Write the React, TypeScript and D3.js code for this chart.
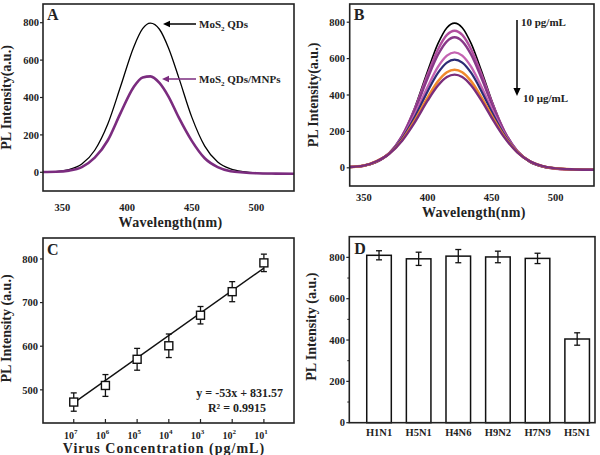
import React from "react";
import * as d3 from "d3";

// ---------- Panel A data ----------
const WL_A = [335, 345, 355, 365, 375, 385, 395, 405, 412, 418, 425, 432, 440, 450, 460, 470, 480, 490, 500, 515, 530];
const A_QDS = [3, 4, 14, 44, 118, 257, 460, 668, 768, 798, 765, 665, 505, 295, 140, 55, 18, 3, -4, -7, -8];
const A_MNPS = [2, 3, 9, 28, 78, 170, 318, 455, 507, 513, 478, 405, 292, 168, 75, 28, 6, -1, -5, -7, -8];

// ---------- Panel B data ----------
const WL_B = [338, 350, 360, 370, 380, 390, 400, 408, 415, 421, 427, 434, 442, 450, 460, 470, 480, 490, 500, 515, 530];
const B_C1 = [4, 10, 30, 77, 175, 333, 533, 682, 770, 795, 770, 682, 533, 371, 200, 88, 30, 5, -5, -10, -11];
const B_C2 = [4, 11, 33, 81, 176, 327, 514, 650, 730, 753, 730, 650, 514, 363, 201, 92, 33, 6, -5, -10, -11];
const B_C3 = [4, 11, 34, 81, 174, 318, 493, 621, 695, 717, 695, 621, 493, 352, 198, 92, 34, 7, -4, -10, -11];
const B_C4 = [4, 12, 35, 81, 166, 294, 445, 554, 616, 634, 616, 554, 445, 323, 188, 91, 35, 8, -4, -9, -11];
const B_C5 = [4, 12, 35, 80, 161, 280, 421, 521, 578, 594, 578, 521, 421, 308, 181, 89, 35, 8, -3, -9, -11];
const B_C6 = [4, 12, 36, 78, 153, 262, 387, 475, 525, 539, 525, 475, 387, 287, 172, 87, 35, 9, -3, -9, -11];
const B_C7 = [4, 12, 36, 77, 149, 251, 370, 452, 499, 512, 499, 452, 370, 275, 166, 85, 35, 9, -3, -9, -11];
const B_SERIES = [B_C1, B_C2, B_C3, B_C4, B_C5, B_C6, B_C7];
const B_COLORS = ["#000000", "#b14f9f", "#883888", "#c463b2", "#2c2c76", "#f0892c", "#7a2e7c"];

// ---------- Panel C data ----------
const C_EXP = [7, 6, 5, 4, 3, 2, 1];
const C_MEAN = [472, 510, 570, 601, 671, 725, 791];
const C_ERR = [21, 25, 25, 27, 20, 23, 20];
const C_FIT = [470, 779];

// ---------- Panel D data ----------
const D_CATS = ["H1N1", "H5N1", "H4N6", "H9N2", "H7N9", "H5N1"];
const D_MEAN = [810, 793, 806, 802, 795, 405];
const D_ERR = [22, 32, 32, 28, 25, 30];

const SPEC_Y_TICKS = [0, 200, 400, 600, 800];
const SPEC_X_TICKS = [350, 400, 450, 500];
const C_Y_TICKS = [500, 600, 700, 800];
const D_Y_TICKS = [0, 200, 400, 600, 800];

const FONT = "'Liberation Serif', 'Times New Roman', serif";
const FRAME = "#222";

function Frame({ x0, y0, x1, y1 }: any) {
  return <rect x={x0} y={y0} width={x1 - x0} height={y1 - y0} fill="none" stroke={FRAME} strokeWidth={1.6} />;
}

function YTicks({ scale, ticks, x0, len = 3, labelX }: any) {
  return (
    <g>
      {ticks.map((t: number) => (
        <g key={t}>
          <line x1={x0 - len} x2={x0} y1={scale(t)} y2={scale(t)} stroke={FRAME} strokeWidth={1.2} />
          <text x={labelX} y={scale(t)} dy="0.35em" textAnchor="end" fontSize={10.5} fontWeight="bold" fontFamily={FONT} fill="#222">
            {t}
          </text>
        </g>
      ))}
    </g>
  );
}

function SpectrumPanel({ left, top, right, bottom, xDomain, label, wl, series, colors, widths, labelX, yLabelX, xTitleY, xTickY }: any) {
  const x = d3.scaleLinear().domain(xDomain).range([left, right]);
  const y = d3.scaleLinear().domain([-100, 900]).range([bottom, top]);
  const line = d3
    .line<number>()
    .x((_, i) => x(wl[i]))
    .y((d) => y(d))
    .curve(d3.curveMonotoneX);
  const midY = (top + bottom) / 2;
  return (
    <g>
      <defs>
        <clipPath id={"clip" + label}>
          <rect x={left} y={top} width={right - left} height={bottom - top} />
        </clipPath>
      </defs>
      <g clipPath={`url(#clip${label})`}>
        {series.map((s: number[], i: number) => (
          <path key={i} d={line(s) || ""} fill="none" stroke={colors[i]} strokeWidth={widths[i]} />
        ))}
      </g>
      <Frame x0={left} y0={top} x1={right} y1={bottom} />
      <YTicks scale={y} ticks={SPEC_Y_TICKS} x0={left} labelX={labelX} />
      {SPEC_X_TICKS.map((t) => (
        <text key={t} x={x(t)} y={xTickY} textAnchor="middle" fontSize={10.5} fontWeight="bold" fontFamily={FONT} fill="#222">
          {t}
        </text>
      ))}
      <text x={(left + right) / 2 + 2} y={xTitleY} textAnchor="middle" fontSize={14} fontWeight="bold" fontFamily={FONT} fill="#222" letterSpacing={0.3}>
        Wavelength(nm)
      </text>
      <text transform={`translate(${yLabelX},${midY}) rotate(-90)`} textAnchor="middle" fontSize={14} fontWeight="bold" fontFamily={FONT} fill="#222">
        PL Intensity(a.u.)
      </text>
      <text x={left + 4} y={top + 16} fontSize={16} fontWeight="bold" fontFamily={FONT} fill="#222">
        {label}
      </text>
    </g>
  );
}

function Arrow({ x1, y1, x2, y2, color, head = 7, width = 1.5 }: any) {
  const ang = Math.atan2(y2 - y1, x2 - x1);
  const hw = head * 0.45;
  const bx = x2 - head * Math.cos(ang);
  const by = y2 - head * Math.sin(ang);
  const p1 = [bx + hw * Math.sin(ang), by - hw * Math.cos(ang)];
  const p2 = [bx - hw * Math.sin(ang), by + hw * Math.cos(ang)];
  return (
    <g>
      <line x1={x1} y1={y1} x2={bx} y2={by} stroke={color} strokeWidth={width} />
      <polygon points={`${x2},${y2} ${p1[0]},${p1[1]} ${p2[0]},${p2[1]}`} fill={color} />
    </g>
  );
}

function PanelC() {
  const left = 43, right = 294, top = 238, bottom = 423;
  const x = d3.scaleLinear().domain([-0.97, 6.95]).range([left, right]);
  const y = d3.scaleLinear().domain([424, 848]).range([bottom, top]);
  const fitLine = d3
    .line<number>()
    .x((_, i) => x(i === 0 ? 0 : C_EXP.length - 1))
    .y((d) => y(d));
  const sq = 8;
  return (
    <g>
      <path d={fitLine(C_FIT) || ""} stroke="#111" strokeWidth={1.4} fill="none" />
      {C_MEAN.map((m, i) => (
        <g key={i}>
          <line x1={x(i)} x2={x(i)} y1={y(m + C_ERR[i])} y2={y(m - C_ERR[i])} stroke="#111" strokeWidth={1.3} />
          <line x1={x(i) - 3} x2={x(i) + 3} y1={y(m + C_ERR[i])} y2={y(m + C_ERR[i])} stroke="#111" strokeWidth={1.3} />
          <line x1={x(i) - 3} x2={x(i) + 3} y1={y(m - C_ERR[i])} y2={y(m - C_ERR[i])} stroke="#111" strokeWidth={1.3} />
          <rect x={x(i) - sq / 2} y={y(m) - sq / 2} width={sq} height={sq} fill="#fff" stroke="#111" strokeWidth={1.4} />
        </g>
      ))}
      <Frame x0={left} y0={top} x1={right} y1={bottom} />
      <YTicks scale={y} ticks={C_Y_TICKS} x0={left} labelX={38} />
      {C_EXP.map((e, i) => (
        <g key={i}>
          <line x1={x(i)} x2={x(i)} y1={bottom} y2={bottom - 4} stroke={FRAME} strokeWidth={1.2} />
          <text x={x(i) - 3} y={439} textAnchor="middle" fontSize={10} fontWeight="bold" fontFamily={FONT} fill="#222">
            10
            <tspan dy={-5} fontSize={7}>
              {e}
            </tspan>
          </text>
        </g>
      ))}
      <text x={164} y={453} textAnchor="middle" fontSize={14} fontWeight="bold" fontFamily={FONT} fill="#222" letterSpacing={1}>
        Virus Concentration (pg/mL)
      </text>
      <text transform={`translate(11,${(top + bottom) / 2 - 2}) rotate(-90)`} textAnchor="middle" fontSize={14} fontWeight="bold" fontFamily={FONT} fill="#222">
        PL Intensity (a.u.)
      </text>
      <text x={283} y={397} textAnchor="end" fontSize={12} fontWeight="bold" fontFamily={FONT} fill="#222">
        y = -53x + 831.57
      </text>
      <text x={237} y={412} textAnchor="middle" fontSize={12} fontWeight="bold" fontFamily={FONT} fill="#222">
        R² = 0.9915
      </text>
      <text x={left + 4} y={top + 17} fontSize={16} fontWeight="bold" fontFamily={FONT} fill="#222">
        C
      </text>
    </g>
  );
}

function PanelD() {
  const left = 349.3, right = 595, top = 236.7, bottom = 422.7;
  const x = d3.scaleLinear().domain([-0.75, 5.45]).range([left, right]);
  const y = d3.scaleLinear().domain([0, 900]).range([bottom, top]);
  const bw = x(0.62) - x(0);
  const minor = [100, 300, 500, 700];
  return (
    <g>
      {D_MEAN.map((m, i) => (
        <g key={i}>
          <rect x={x(i) - bw / 2} y={y(m)} width={bw} height={y(0) - y(m)} fill="#fff" stroke="#111" strokeWidth={1.5} />
          <line x1={x(i)} x2={x(i)} y1={y(m + D_ERR[i])} y2={y(m - D_ERR[i])} stroke="#111" strokeWidth={1.3} />
          <line x1={x(i) - 3} x2={x(i) + 3} y1={y(m + D_ERR[i])} y2={y(m + D_ERR[i])} stroke="#111" strokeWidth={1.3} />
          <line x1={x(i) - 3} x2={x(i) + 3} y1={y(m - D_ERR[i])} y2={y(m - D_ERR[i])} stroke="#111" strokeWidth={1.3} />
          <text x={x(i)} y={436} textAnchor="middle" fontSize={10.5} fontWeight="bold" fontFamily={FONT} fill="#222">
            {D_CATS[i]}
          </text>
        </g>
      ))}
      <Frame x0={left} y0={top} x1={right} y1={bottom} />
      <YTicks scale={y} ticks={D_Y_TICKS} x0={left} labelX={345} />
      {minor.map((t) => (
        <line key={t} x1={left - 2} x2={left} y1={y(t)} y2={y(t)} stroke={FRAME} strokeWidth={1} />
      ))}
      <text transform={`translate(316,${(top + bottom) / 2 - 3}) rotate(-90)`} textAnchor="middle" fontSize={14} fontWeight="bold" fontFamily={FONT} fill="#222">
        PL Intensity (a.u.)
      </text>
      <text x={left + 5} y={top + 17} fontSize={16} fontWeight="bold" fontFamily={FONT} fill="#222">
        D
      </text>
    </g>
  );
}

export default function App() {
  return (
    <svg width={600} height={455} style={{ position: "absolute", left: 0, top: 0, background: "#fff" }}>
      <rect x={0} y={0} width={600} height={455} fill="#fff" />
      <SpectrumPanel
        left={43}
        top={4}
        right={294}
        bottom={191}
        xDomain={[335, 529]}
        label="A"
        wl={WL_A}
        series={[A_QDS, A_MNPS]}
        colors={["#000", "#7b2c7f"]}
        widths={[1.3, 2.6]}
        labelX={39}
        yLabelX={11}
        xTitleY={227}
        xTickY={211}
      />
      <Arrow x1={196} y1={24} x2={163} y2={24} color="#000" />
      <text x={199} y={28} fontSize={11} fontWeight="bold" fontFamily={FONT} fill="#222">
        MoS<tspan dy={3} fontSize={7}>2</tspan>
        <tspan dy={-3}> QDs</tspan>
      </text>
      <Arrow x1={196} y1={79} x2={162} y2={79} color="#7b2c7f" />
      <text x={199} y={83} fontSize={11} fontWeight="bold" fontFamily={FONT} fill="#222">
        MoS<tspan dy={3} fontSize={7}>2</tspan>
        <tspan dy={-3}> QDs/MNPs</tspan>
      </text>

      <SpectrumPanel
        left={349.7}
        top={4}
        right={594}
        bottom={186}
        xDomain={[339, 530]}
        label="B"
        wl={WL_B}
        series={B_SERIES}
        colors={B_COLORS}
        widths={[1.6, 2.4, 2.4, 2.4, 2.2, 2.6, 2.4]}
        labelX={345}
        yLabelX={318}
        xTitleY={217}
        xTickY={201}
      />
      <Arrow x1={517} y1={20} x2={517} y2={96} color="#000" head={8} width={1.5} />
      <text x={521} y={26} fontSize={11} fontWeight="bold" fontFamily={FONT} fill="#222">
        10 pg/mL
      </text>
      <text x={523} y={102} fontSize={11} fontWeight="bold" fontFamily={FONT} fill="#222">
        10 μg/mL
      </text>

      <PanelC />
      <PanelD />
    </svg>
  );
}
